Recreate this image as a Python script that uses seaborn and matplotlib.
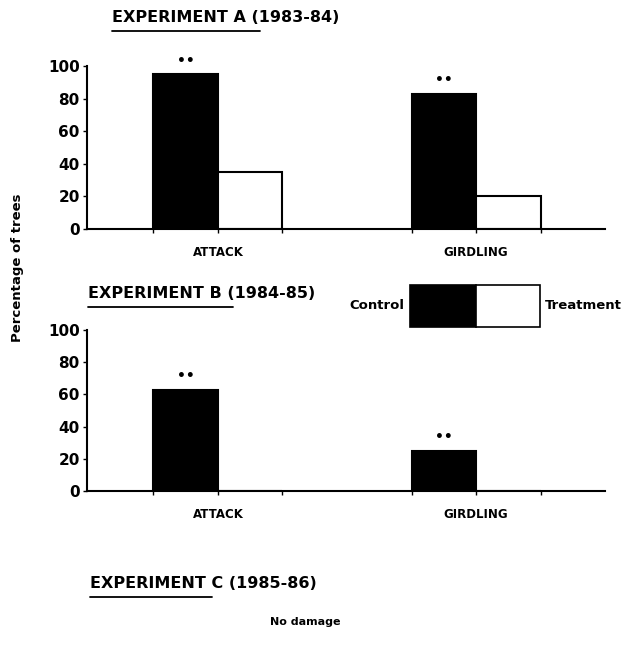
import matplotlib
matplotlib.use("Agg")
import matplotlib.pyplot as plt
from matplotlib.patches import Rectangle
import seaborn as sns
import pandas as pd

sns.set_theme(style="ticks")
plt.rcParams['font.family'] = ['DejaVu Sans']
plt.rcParams['font.weight'] = 'bold'
plt.rcParams['text.color'] = 'black'
plt.rcParams['xtick.color'] = 'black'
plt.rcParams['ytick.color'] = 'black'
plt.rcParams['axes.edgecolor'] = 'black'

categories = ["ATTACK", "GIRDLING"]
groups = ["Control", "Treatment"]
exp_a_control = [95, 83]
exp_a_treatment = [35, 20]
exp_b_control = [63, 25]
exp_b_treatment = [0, 0]
yticks = [0, 20, 40, 60, 80, 100]
signif_a = ["••", "••"]
signif_b = ["••", "••"]

def make_df(ctrl, trt):
    rows = []
    for c, v in zip(categories, ctrl):
        rows.append({"category": c, "group": "Control", "value": v})
    for c, v in zip(categories, trt):
        rows.append({"category": c, "group": "Treatment", "value": v})
    return pd.DataFrame(rows)

fig = plt.figure(figsize=(6.29, 6.57), dpi=100)
axA = fig.add_axes([0.138, 0.6514, 0.824, 0.2481])
axB = fig.add_axes([0.138, 0.2527, 0.824, 0.2450])

palette = {"Control": "black", "Treatment": "white"}

for ax, ctrl, trt, sig in [(axA, exp_a_control, exp_a_treatment, signif_a),
                           (axB, exp_b_control, exp_b_treatment, signif_b)]:
    df = make_df(ctrl, trt)
    sns.barplot(data=df, x="category", y="value", hue="group", order=categories,
                hue_order=groups, palette=palette, edgecolor="black", linewidth=1.5,
                width=0.5, dodge=True, legend=False, ax=ax, saturation=1)
    ax.set_xlim(-0.508, 1.5)
    ax.set_ylim(0, 100)
    ax.set_yticks(yticks)
    ax.set_yticklabels([str(t) for t in yticks], fontsize=11, fontweight='bold')
    ax.set_xticks([0, 1])
    ax.set_xticklabels(categories, fontsize=8.5, fontweight='bold')
    ax.set_xticks([-0.25, 0.25, 0.75, 1.25], minor=True)
    ax.tick_params(axis='x', which='both', length=3, width=1, pad=9, direction='out')
    ax.tick_params(axis='y', length=3, width=1, pad=2)
    ax.set_xlabel("")
    ax.set_ylabel("")
    for s in ["top", "right"]:
        ax.spines[s].set_visible(False)
    ax.spines["left"].set_linewidth(1.5)
    ax.spines["bottom"].set_linewidth(1.5)
    ax.set_facecolor("white")
    for i, (v, s) in enumerate(zip(ctrl, sig)):
        ax.text(i - 0.125, v + 4, s, ha="center", va="bottom", fontsize=10, fontweight="bold")

def title(x, y, txt, underline_w):
    fig.text(x, y, txt, fontsize=11.5, fontweight="bold", ha="left", va="baseline")
    fig.add_artist(plt.Line2D([x, x + underline_w], [y - 0.013, y - 0.013], color="black", lw=1.3))

title(112/629, 1 - 22/657, "EXPERIMENT A (1983-84)", 148/629)
title(88/629, 1 - 298/657, "EXPERIMENT B (1984-85)", 145/629)
title(90/629, 1 - 588/657, "EXPERIMENT C (1985-86)", 122/629)

fig.text(18/629, 1 - 268/657, "Percentage of trees", rotation=90, ha="center", va="center",
         fontsize=9.5, fontweight="bold")

# legend
ly0 = 1 - 327/657
lh = 42/657
fig.add_artist(Rectangle((410/629, ly0), 66/629, lh, transform=fig.transFigure,
                         facecolor="black", edgecolor="black", lw=1.2))
fig.add_artist(Rectangle((476/629, ly0), 64/629, lh, transform=fig.transFigure,
                         facecolor="white", edgecolor="black", lw=1.2))
fig.text(404/629, ly0 + lh / 2, "Control", ha="right", va="center", fontsize=9.5, fontweight="bold")
fig.text(545/629, ly0 + lh / 2, "Treatment", ha="left", va="center", fontsize=9.5, fontweight="bold")

fig.text(305/629, 1 - 622/657, "No damage", ha="center", va="center", fontsize=8, fontweight="bold")

fig.savefig("out.png", dpi=100, facecolor="white")
